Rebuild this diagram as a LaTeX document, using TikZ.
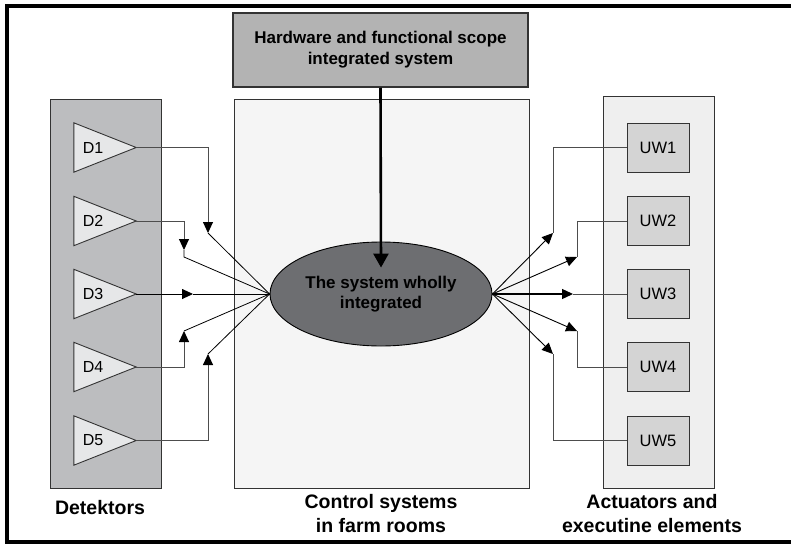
\documentclass[tikz,border=0pt]{standalone}
\usepackage{fontspec}
\setmainfont{Liberation Sans}
\usetikzlibrary{arrows.meta,shapes.geometric,calc}
\definecolor{topfill}{HTML}{B3B3B3}
\definecolor{detfill}{HTML}{BCBDBF}
\definecolor{trifill}{HTML}{E6E7E8}
\definecolor{ctrfill}{HTML}{F5F5F5}
\definecolor{actfill}{HTML}{EFEFEF}
\definecolor{uwfill}{HTML}{D4D4D4}
\definecolor{ellfill}{HTML}{6D6E71}
\definecolor{edge}{HTML}{333333}
\definecolor{wire}{HTML}{4D4D4D}
\begin{document}
\begin{tikzpicture}[x=1pt,y=-1pt,
  panel/.style={draw=edge,line width=0.9pt,inner sep=0pt},
  trinode/.style={minimum width=62pt,minimum height=49pt,inner sep=0pt},
  uwbox/.style={draw=edge,line width=1pt,fill=uwfill,minimum width=62pt,minimum height=49pt,inner sep=0pt,font=\fontsize{16.5pt}{19pt}\selectfont},
  dlabel/.style={inner sep=0pt,font=\fontsize{16pt}{19pt}\selectfont},
  biglabel/.style={align=center,inner sep=0pt,font=\fontsize{19.5pt}{24pt}\selectfont\bfseries},
  wireline/.style={draw=wire,line width=0.9pt},
  arr/.style={draw=black,line width=0.9pt,-{Triangle[length=11pt,width=10pt]}},
  diag/.style={draw=black,line width=0.8pt}]
\useasboundingbox (0,0) rectangle (791,543);
\clip (0,0) rectangle (791,543);
% outer frame
\draw[line width=4pt] (7,6) rectangle (800,542);
% panels
\node[panel,fill=detfill,minimum width=111pt,minimum height=389pt] (det) at (105.5,293.5) {};
\node[panel,fill=ctrfill,minimum width=295pt,minimum height=389pt] (ctr) at (381.5,293.5) {};
\node[panel,fill=actfill,minimum width=111pt,minimum height=392pt] (act) at (658.5,292) {};
% top box
\node[draw=edge,line width=1.5pt,fill=topfill,minimum width=295pt,minimum height=74pt,inner sep=0pt,align=center,
  font=\fontsize{17pt}{21pt}\selectfont\bfseries] (top) at (380.5,50) {Hardware and functional scope\\integrated system};
% ellipse
\node[ellipse,draw=black,line width=0.9pt,fill=ellfill,minimum width=222pt,minimum height=104pt,inner sep=0pt,align=center,
  font=\fontsize{17pt}{20pt}\selectfont\bfseries] (ell) at (381,294) {The system wholly\\integrated};
% detectors
\foreach \i/\y in {1/147.5,2/221,3/294,4/367,5/440.5}{
  \node[trinode] (D\i) at (105,\y) {};
  \draw[draw=edge,line width=0.9pt,fill=trifill] (D\i.north west) -- (D\i.east) -- (D\i.south west) -- cycle;
  \node[dlabel] (D\i l) at (93,\y) {D\i};
}
% actuators
\foreach \i/\y in {1/147.5,2/221,3/294,4/367,5/440.5}{
  \node[uwbox] (UW\i) at (658,\y) {UW\i};
}
% coordinates
\coordinate (a1) at (208,233);
\coordinate (a2) at (184,250);
\coordinate (b2) at (184,257);
\coordinate (a3) at (193,294);
\coordinate (a4) at (184,331);
\coordinate (a5) at (208,354);
\coordinate (r1) at (553,233);
\coordinate (r2) at (577,257);
\coordinate (r3) at (573,294);
\coordinate (r4) at (577,331);
\coordinate (r5) at (553,354);
% left connectors
\draw[wireline] (D1.east) -| ($(a1)+(0,-8)$);
\draw[arr] ($(a1)+(0,-9)$) -- (a1);
\draw[diag] (a1) -- (ell.west);
\draw[wireline] (D2.east) -| ($(a2)+(0,-8)$);
\draw[arr] ($(a2)+(0,-9)$) -- (a2);
\draw[diag] (a2) -- (b2) -- (ell.west);
\draw[arr] (D3.east) -- (a3);
\draw[diag] (a3) -- (ell.west);
\draw[wireline] (D4.east) -| ($(a4)+(0,8)$);
\draw[arr] ($(a4)+(0,9)$) -- (a4);
\draw[diag] (a4) -- (ell.west);
\draw[wireline] (D5.east) -| ($(a5)+(0,8)$);
\draw[arr] ($(a5)+(0,9)$) -- (a5);
\draw[diag] (a5) -- (ell.west);
% right connectors
\draw[arr] (ell.east) -- (r1);
\draw[wireline] (r1) |- (UW1.west);
\draw[arr] (ell.east) -- (r2);
\draw[wireline] (r2) |- (UW2.west);
\draw[arr,line width=1.3pt] (ell.east) -- (r3);
\draw[wireline] (r3) -- (UW3.west);
\draw[arr] (ell.east) -- (r4);
\draw[wireline] (r4) |- (UW4.west);
\draw[arr] (ell.east) -- (r5);
\draw[wireline] (r5) |- (UW5.west);
% top arrow
\draw[line width=2.6pt,-{Triangle[length=14pt,width=15pt]}] (top.south) -- ($(ell.north)+(0,26)$);
% bottom labels
\node[biglabel] (lbdet) at (100,508) {Detektors};
\node[biglabel] (lbctr) at (381,514) {Control systems\\in farm rooms};
\node[biglabel] (lbact) at (652,514) {Actuators and\\executine elements};
\end{tikzpicture}
\end{document}
